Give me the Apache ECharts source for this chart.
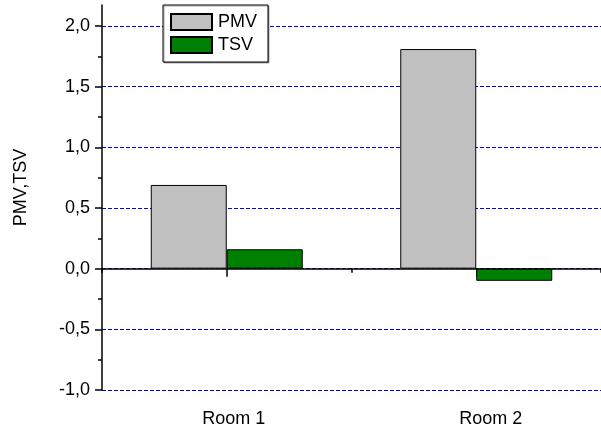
<!DOCTYPE html>
<html>
<head>
<meta charset="utf-8">
<script src="https://cdn.jsdelivr.net/npm/echarts@6/dist/echarts.min.js"></script>
<style>
  html, body { margin: 0; padding: 0; background: #fff; }
  #chart { width: 601px; height: 431px; }
</style>
</head>
<body>
<div id="chart"></div>
<script>
// Rooms on the category axis
var rooms = ['Room 1', 'Room 2'];
// Predicted mean vote and thermal sensation vote per room
var pmvValues = [0.69, 1.81];
var tsvValues = [0.16, -0.10];
// Legend entries
var seriesNames = ['PMV', 'TSV'];

var FONT = 'Liberation Sans, Arial, sans-serif';

var chart = echarts.init(document.getElementById('chart'), null, { renderer: 'canvas' });

function commaDecimal(v) {
  return v.toFixed(1).replace('.', ',');
}

chart.setOption({
  animation: false,
  backgroundColor: '#fff',
  textStyle: { fontFamily: FONT, color: '#000' },
  grid: [
    // frame for the tall left axis line
    { left: 102, width: 502, top: 5, bottom: 41 },
    // plotting area
    { left: 102, width: 502, top: 26, bottom: 41 }
  ],
  legend: {
    data: seriesNames,
    orient: 'vertical',
    icon: 'rect',
    left: 163,
    top: 5,
    padding: [8, 11, 8, 7],
    itemGap: 5,
    itemWidth: 41,
    itemHeight: 16,
    backgroundColor: '#fff',
    borderColor: '#000',
    borderWidth: 1,
    shadowColor: 'rgba(0,0,0,0.35)',
    shadowOffsetX: 1,
    shadowOffsetY: 1,
    shadowBlur: 0,
    textStyle: { fontFamily: FONT, fontSize: 18, color: '#000', padding: [0, 0, 0, 1] }
  },
  xAxis: [
    { gridIndex: 0, type: 'category', data: rooms, show: false },
    {
      gridIndex: 1, type: 'category', data: rooms, position: 'bottom',
      axisLine: { show: false, onZero: false },
      axisTick: { show: false },
      axisLabel: {
        margin: 20,
        formatter: function (v, i) { return '{r' + i + '|' + v + '}'; },
        rich: {
          r0: { fontFamily: FONT, fontSize: 18, color: '#000', padding: [0, 0, 0, 14] },
          r1: { fontFamily: FONT, fontSize: 18, color: '#000', padding: [0, 0, 0, 29] }
        }
      },
      splitLine: { show: false }
    },
    {
      gridIndex: 1, type: 'category', data: rooms, position: 'bottom',
      axisLine: { show: true, onZero: true, onZeroAxisIndex: 1, lineStyle: { color: '#000', width: 1.5 } },
      axisTick: { show: true, alignWithLabel: true, length: 8, lineStyle: { color: '#000', width: 1.5 } },
      axisLabel: { show: false },
      splitLine: { show: false }
    },
    {
      gridIndex: 1, type: 'category', data: rooms, position: 'bottom',
      axisLine: { show: false, onZero: true, onZeroAxisIndex: 1 },
      axisTick: { show: true, length: 4, lineStyle: { color: '#000', width: 1.5 } },
      axisLabel: { show: false },
      splitLine: { show: false }
    }
  ],
  yAxis: [
    {
      gridIndex: 0, type: 'value', min: -1, max: 2.2,
      axisLine: { show: true, lineStyle: { color: '#000', width: 1.5 } },
      axisTick: { show: false },
      axisLabel: { show: false },
      splitLine: { show: false }
    },
    {
      gridIndex: 1, type: 'value', min: -1, max: 2, interval: 0.5,
      name: 'PMV,TSV',
      nameLocation: 'middle',
      nameGap: 72,
      nameTextStyle: { fontFamily: FONT, fontSize: 18, color: '#000', padding: [0, 0, 0, 41] },
      axisLine: { show: false },
      axisTick: { show: true, length: 7, lineStyle: { color: '#000', width: 1.5 } },
      minorTick: { show: true, splitNumber: 2, length: 4, lineStyle: { color: '#000', width: 1.5 } },
      axisLabel: {
        margin: 12,
        fontFamily: FONT, fontSize: 18, color: '#000',
        formatter: commaDecimal
      },
      splitLine: { show: true, lineStyle: { color: '#0000ff', width: 1, type: [4, 2] } }
    }
  ],
  series: [
    {
      name: seriesNames[0], type: 'bar', xAxisIndex: 1, yAxisIndex: 1,
      data: pmvValues, barWidth: 76, barGap: '0%',
      itemStyle: { color: '#c0c0c0', borderColor: '#000', borderWidth: 1 }
    },
    {
      name: seriesNames[1], type: 'bar', xAxisIndex: 1, yAxisIndex: 1,
      data: tsvValues, barWidth: 76, barGap: '0%',
      itemStyle: { color: '#008000', borderColor: '#000', borderWidth: 1 }
    }
  ]
});
</script>
</body>
</html>
